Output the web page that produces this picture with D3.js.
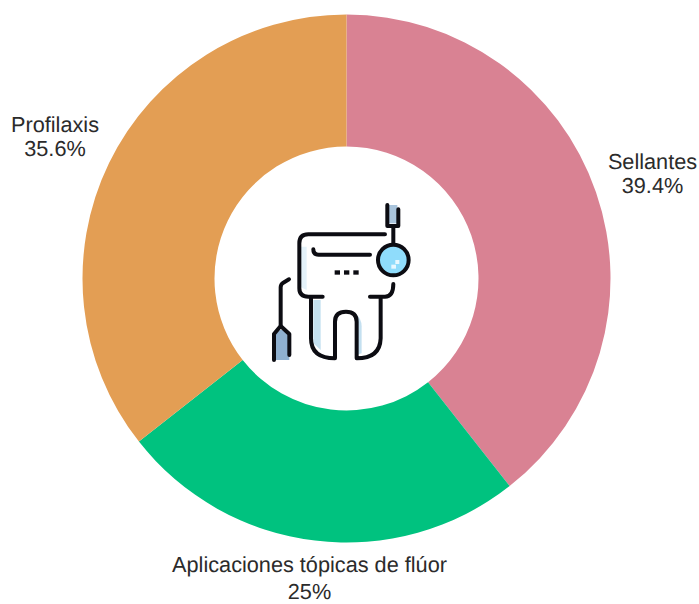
<!DOCTYPE html>
<html><head><meta charset="utf-8"><script src="https://cdn.jsdelivr.net/npm/d3@7"></script>
<style>html,body{margin:0;background:#fff}text{text-rendering:geometricPrecision}</style></head><body><svg id="c" width="699" height="604"></svg>
<script>
const categories=["Sellantes","Aplicaciones tópicas de flúor","Profilaxis"];
const values=[39.4,25,35.6];
const valueLabels=["39.4%","25%","35.6%"];
const colors=["#d98293","#00c27f","#e39e54"];
const svg=d3.select("#c");
const g=svg.append("g").attr("transform","translate(346.5,278.5)");
const arcs=d3.pie().sort(null)(values);
const arc=d3.arc().innerRadius(132).outerRadius(264);
g.selectAll("path").data(arcs).join("path").attr("d",arc).attr("fill",(d,i)=>colors[i]);
const labelPos=[[652.5,169,192.5],[309.5,572,599],[55,132,155.5]];
const fontSize=21.7;
labelPos.forEach((p,i)=>{
 [categories[i],valueLabels[i]].forEach((t,j)=>svg.append("text").attr("x",p[0]).attr("y",p[j+1]).attr("text-anchor","middle").attr("font-family","Liberation Sans, Arial").attr("font-size",fontSize).attr("fill","#2b2b2b").text(t));
});
// centre icon (decorative), drawn in a 3x local space
const ic=svg.append("g").attr("transform","translate(250,190) scale(0.3333)").attr("fill","none").attr("stroke-linecap","round").attr("stroke-linejoin","round");
ic.append("path").attr("d","M190 330 L212 330 L212 480 L190 460Z").attr("fill","#c4e0f0");
ic.append("path").attr("d","M315 370 Q335 385 335 410 L335 490 L318 495Z").attr("fill","#c4e0f0");
ic.append("path").attr("d","M150 170 L170 170 L170 300 L150 290Z").attr("fill","#e4f2fa");
ic.append("path").attr("d","M90 420 L105 420 L118 435 L118 510 L72 510 L72 435Z").attr("fill","#8fb0d0");
ic.append("path").attr("d","M412 45 L442 45 L442 100 L412 100Z").attr("fill","#a9c4dc");
const black=[
 "M405 133 L175 133 Q148 133 148 160 L148 295 Q148 320 175 320 L218 320",
 "M183 325 L183 445 Q183 505 255 505 L255 395 Q255 365 288 365 Q320 365 320 395 L320 505 Q390 505 392 445 L392 325",
 "M360 320 L405 320 Q430 320 430 282",
 "M190 178 Q190 194 206 194 L360 194",
 "M117 268 L100 278 Q92 283 92 292 L92 405",
 "M72 510 L72 432 L92 408 L118 432 L118 495",
 "M412 45 L412 108 L445 108 L445 58",
 "M430 108 L430 160"
];
ic.selectAll("path.k").data(black).join("path").attr("class","k").attr("d",d=>d).attr("stroke","#0c0c12").attr("stroke-width",12);
ic.append("circle").attr("cx",430).attr("cy",210).attr("r",46).attr("fill","#8fdcfb").attr("stroke","#0c0c12").attr("stroke-width",12);
ic.append("rect").attr("x",424).attr("y",224).attr("width",14).attr("height",12).attr("fill","#e8f8ff");
ic.append("rect").attr("x",436).attr("y",210).attr("width",12).attr("height",12).attr("fill","#e8f8ff");
[262,290,318].forEach(x=>ic.append("rect").attr("x",x-8).attr("y",241).attr("width",16).attr("height",13).attr("fill","#0c0c12"));
</script></body></html>
